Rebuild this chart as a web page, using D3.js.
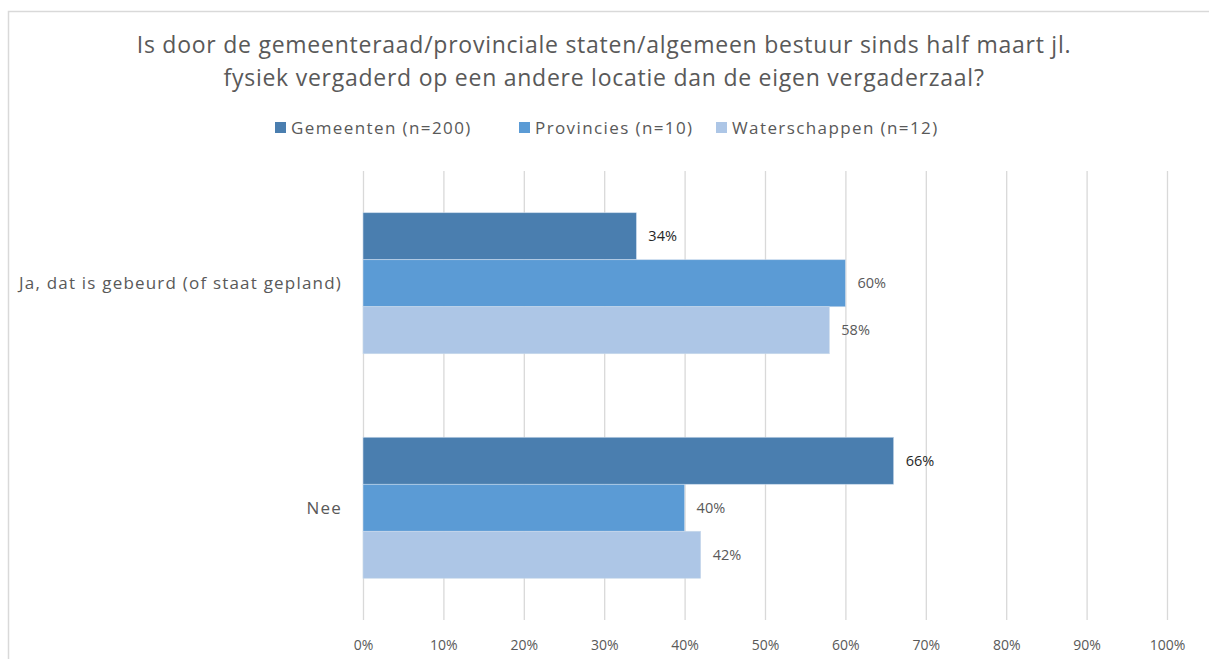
<!DOCTYPE html>
<html>
<head>
<meta charset="utf-8">
<script src="https://cdn.jsdelivr.net/npm/d3@7"></script>
<style>
  body { margin: 0; background: #fff; }
  svg text { font-family: "Open Sans", Lato, sans-serif; }
</style>
</head>
<body>
<svg id="chart"></svg>
<script>
// Data
const categories = ['Ja, dat is gebeurd (of staat gepland)', 'Nee'];
const seriesNames = ['Gemeenten (n=200)', 'Provincies (n=10)', 'Waterschappen (n=12)'];
const gemeenten = [34, 66];
const provincies = [60, 40];
const waterschappen = [58, 42];
const tickValues = [0, 10, 20, 30, 40, 50, 60, 70, 80, 90, 100];
const titleLines = [
    'Is door de gemeenteraad/provinciale staten/algemeen bestuur sinds half maart jl.',
    'fysiek vergaderd op een andere locatie dan de eigen vergaderzaal?'
];

const colors = ['#4a7eaf', '#5b9bd5', '#adc6e6'];
const labelColors = ['#262626', '#595959', '#595959'];

const rows = categories.map((c, i) => ({
    cat: c,
    values: [gemeenten[i], provincies[i], waterschappen[i]]
}));

// Setup
const width = 1209, height = 659;
const svg = d3.select('#chart').attr('width', width).attr('height', height);

// chart frame
svg.append('path')
    .attr('d', `M8.5,${height} V11.5 H${width}`)
    .attr('fill', 'none')
    .attr('stroke', '#d9d9d9')
    .attr('stroke-width', 1.5);

const plot = {left: 363, right: 1167, top: 171, bottom: 620};

const x = d3.scaleLinear().domain([0, 100]).range([plot.left, plot.right]);
const y = d3.scaleBand().domain(categories).range([plot.top, plot.bottom]);
const inner = d3.scaleBand().domain(d3.range(3)).range([0, 141]);

// Title
svg.append('g').selectAll('text').data(titleLines).join('text')
    .attr('x', 604)
    .attr('y', (d, i) => 53 + i * 33)
    .attr('text-anchor', 'middle')
    .attr('fill', '#595959')
    .style('font-size', '23px')
    .style('letter-spacing', '0.75px')
    .text(d => d);

// Legend
const legendX = [275, 519, 716];
const legend = svg.append('g').selectAll('g').data(seriesNames).join('g')
    .attr('transform', (d, i) => `translate(${legendX[i]},122)`);
legend.append('rect').attr('width', 11).attr('height', 11).attr('fill', (d, i) => colors[i]);
legend.append('text')
    .attr('x', 16).attr('y', 12)
    .attr('fill', '#595959')
    .style('font-size', '17px')
    .style('letter-spacing', '1.4px')
    .text(d => d);

// Grid
svg.append('g')
    .attr('transform', `translate(0,${plot.bottom})`)
    .call(d3.axisBottom(x).tickValues(tickValues).tickSize(-(plot.bottom - plot.top)).tickFormat(''))
    .call(g => g.select('.domain').remove())
    .call(g => g.selectAll('line').attr('stroke', '#d9d9d9').attr('stroke-width', 1.3));

// X tick labels
svg.append('g')
    .attr('transform', `translate(0,${plot.bottom})`)
    .call(d3.axisBottom(x).tickValues(tickValues).tickSize(0).tickPadding(20).tickFormat(d => d + '%'))
    .call(g => g.select('.domain').remove())
    .call(g => g.selectAll('text')
        .attr('fill', '#595959')
        .style('font-size', '14px')
        .style('font-family', '"Open Sans", Lato, sans-serif'));

// Category labels
svg.append('g').selectAll('text').data(categories).join('text')
    .attr('x', 342)
    .attr('y', d => y(d) + y.bandwidth() / 2 + 6)
    .attr('text-anchor', 'end')
    .attr('fill', '#595959')
    .style('font-size', '17px')
    .style('letter-spacing', '1.2px')
    .text(d => d);

// Bars
const groups = svg.append('g').selectAll('g').data(rows).join('g')
    .attr('transform', d => `translate(0,${y(d.cat) + (y.bandwidth() - 141) / 2})`);

groups.selectAll('rect')
    .data(d => d.values.map((v, i) => ({v, i})))
    .join('rect')
    .attr('x', x(0))
    .attr('y', d => inner(d.i))
    .attr('width', d => x(d.v) - x(0))
    .attr('height', inner.bandwidth())
    .attr('fill', d => colors[d.i])
    .attr('stroke', '#c9d9ec')
    .attr('stroke-width', 0.6);

groups.selectAll('text')
    .data(d => d.values.map((v, i) => ({v, i})))
    .join('text')
    .attr('x', d => x(d.v) + 12)
    .attr('y', d => inner(d.i) + inner.bandwidth() / 2 + 5)
    .attr('fill', d => labelColors[d.i])
    .style('font-size', '14.5px')
    .text(d => d.v + '%');
</script>
</body>
</html>
